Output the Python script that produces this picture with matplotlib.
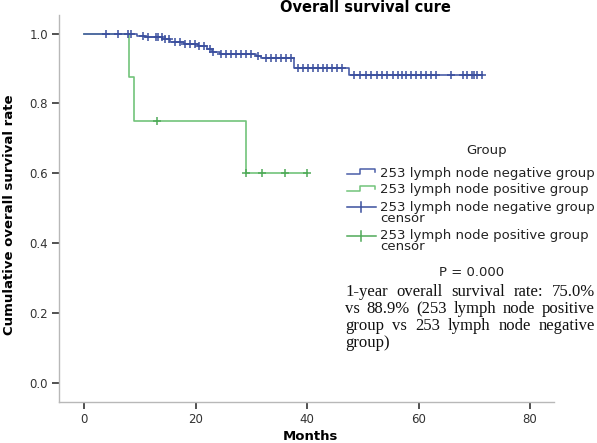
import numpy as np
import matplotlib
matplotlib.use("Agg")
import matplotlib.pyplot as plt
from matplotlib.lines import Line2D

# negative group (blue): step drops and censored times
neg_event_times = [9.5, 11.0, 14.0, 15.5, 18.0, 20.4, 22.0, 23.0, 24.3, 30.9, 31.8, 37.7, 47.6]
neg_surv = [0.993, 0.989, 0.983, 0.976, 0.970, 0.963, 0.955, 0.948, 0.942, 0.936, 0.929, 0.900, 0.880]
neg_end = 71.4
neg_censor = [3.9, 6.0, 7.9, 8.5, 10.6, 11.5, 12.9, 13.3, 13.9, 14.5, 15.3, 16.3, 17.2, 18.1,
              19.0, 19.9, 20.6, 21.6, 22.5, 23.1, 24.5, 25.5, 26.4, 27.3, 28.2, 29.1, 30.0,
              31.2, 32.7, 33.6, 34.5, 35.4, 36.3, 37.2, 38.3, 39.2, 40.1, 41.0, 41.9, 42.8,
              43.6, 44.5, 45.4, 46.2, 48.5, 49.5, 50.5, 51.5, 52.5, 53.5, 54.4, 55.4, 56.3,
              57.0, 57.7, 58.6, 59.5, 60.4, 61.3, 62.2, 63.1, 65.8, 67.9, 68.7, 69.6, 70.0,
              70.5, 71.4]

# positive group (green)
pos_event_times = [8.0, 9.0, 29.0]
pos_surv = [0.875, 0.75, 0.60]
pos_end = 40.0
pos_censor = [13.0, 29.0, 32.0, 36.0, 40.0]

x_ticks = [0, 20, 40, 60, 80]
y_ticks = [0.0, 0.2, 0.4, 0.6, 0.8, 1.0]

legend_labels = ["253 lymph node negative group",
                 "253 lymph node positive group",
                 "253 lymph node negative group\ncensor",
                 "253 lymph node positive group\ncensor"]
p_text = "P = 0.000"
note_lines = ["1-year overall survival rate: 75.0%",
              "vs 88.9% (253 lymph node positive",
              "group vs 253 lymph node negative",
              "group)"]

BLUE = "#4a5ea8"
BLUE_C = "#3b4f9e"
GREEN = "#72c47a"
GREEN_C = "#4faa58"

W, H = 597, 443


def fx(px):
    return px / W


def fy(py):
    return 1 - py / H


def curve(times, surv, end):
    t = [0.0] + list(times) + [end]
    s = [1.0] + list(surv) + [surv[-1]]
    return np.array(t), np.array(s)


def at(times, surv, c):
    t = np.array(times)
    s = np.concatenate([[1.0], surv])
    return s[np.searchsorted(t, c, side="right")]


fig = plt.figure(figsize=(W / 100, H / 100), dpi=100)
ax = fig.add_axes([fx(59), fy(401.7), fx(554 - 59), (401.7 - 15) / H])

nt, ns = curve(neg_event_times, neg_surv, neg_end)
pt, ps = curve(pos_event_times, pos_surv, pos_end)
ax.step(pt, ps, where="post", color=GREEN, lw=1.2, zorder=2)
ax.step(nt, ns, where="post", color=BLUE, lw=1.2, zorder=3)
ax.plot(pos_censor, at(pos_event_times, pos_surv, pos_censor), "+", color=GREEN_C,
        ms=6, mew=1.1, zorder=4)
ax.plot(neg_censor, at(neg_event_times, neg_surv, neg_censor), "+", color=BLUE_C,
        ms=6, mew=1.1, zorder=5)

ax.set_xlim(-4.5, 84.3)
ax.set_ylim(-0.054, 1.053)
ax.set_xticks(x_ticks)
ax.set_yticks(y_ticks)
ax.set_yticklabels([f"{v:.1f}" for v in y_ticks])
for s in ["top", "right"]:
    ax.spines[s].set_visible(False)
for s in ["left", "bottom"]:
    ax.spines[s].set_color("#b8b8b8")
    ax.spines[s].set_linewidth(1.0)
ax.tick_params(direction="out", length=5, width=1.2, color="#333333",
               labelsize=8.5, labelcolor="#333333", pad=3)

fig.text(fx(365), fy(8), "Overall survival cure", ha="center", va="center",
         fontsize=10.5, fontweight="bold")
fig.text(fx(310), fy(436), "Months", ha="center", va="center",
         fontsize=9.5, fontweight="bold")
fig.text(fx(10), fy(215), "Cumulative overall survival rate", ha="center", va="center",
         rotation=90, fontsize=9.5, fontweight="bold")

# legend, drawn by hand so the censor icons sit on the first text line
fig.text(fx(487), fy(150), "Group", ha="center", va="center", fontsize=9.5, color="#222222")
rows = [173, 190, 207, 236]
cols = [BLUE, GREEN, BLUE_C, GREEN_C]
for i, (lab, y, c) in enumerate(zip(legend_labels, rows, cols)):
    if i < 2:
        xs = [347, 360, 360, 375, 375]
        ys = [y + 1, y + 1, y - 4, y - 4, y - 1]
        fig.add_artist(Line2D([fx(v) for v in xs], [fy(v) for v in ys],
                              transform=fig.transFigure, color=c, lw=1.1))
    else:
        fig.add_artist(Line2D([fx(347), fx(376)], [fy(y), fy(y)],
                              transform=fig.transFigure, color=c, lw=1.1))
        fig.add_artist(Line2D([fx(361), fx(361)], [fy(y - 5), fy(y + 5)],
                              transform=fig.transFigure, color=c, lw=1.1))
    fig.text(fx(380), fy(y - 6.5), lab, ha="left", va="top", fontsize=9.5,
             linespacing=0.8, color="#222222")

fig.text(fx(472), fy(273), p_text, ha="center", va="center", fontsize=9.5,
         color="#222222")

# justified note in a serif face
renderer = fig.canvas.get_renderer()
x0, x1 = 345, 595
for i, line in enumerate(note_lines):
    y = fy(292 + 17 * i)
    words = line.split()
    texts = [fig.text(0, y, w, ha="left", va="center", fontsize=12,
                      family="Liberation Serif", color="#111111") for w in words]
    widths = [t.get_window_extent(renderer).width for t in texts]
    if i == len(note_lines) - 1 or len(words) == 1:
        gap = 4
    else:
        gap = (x1 - x0 - sum(widths)) / (len(words) - 1)
    x = x0
    for t, w in zip(texts, widths):
        t.set_x(fx(x))
        x += w + gap

fig.savefig("out.png", dpi=100)
